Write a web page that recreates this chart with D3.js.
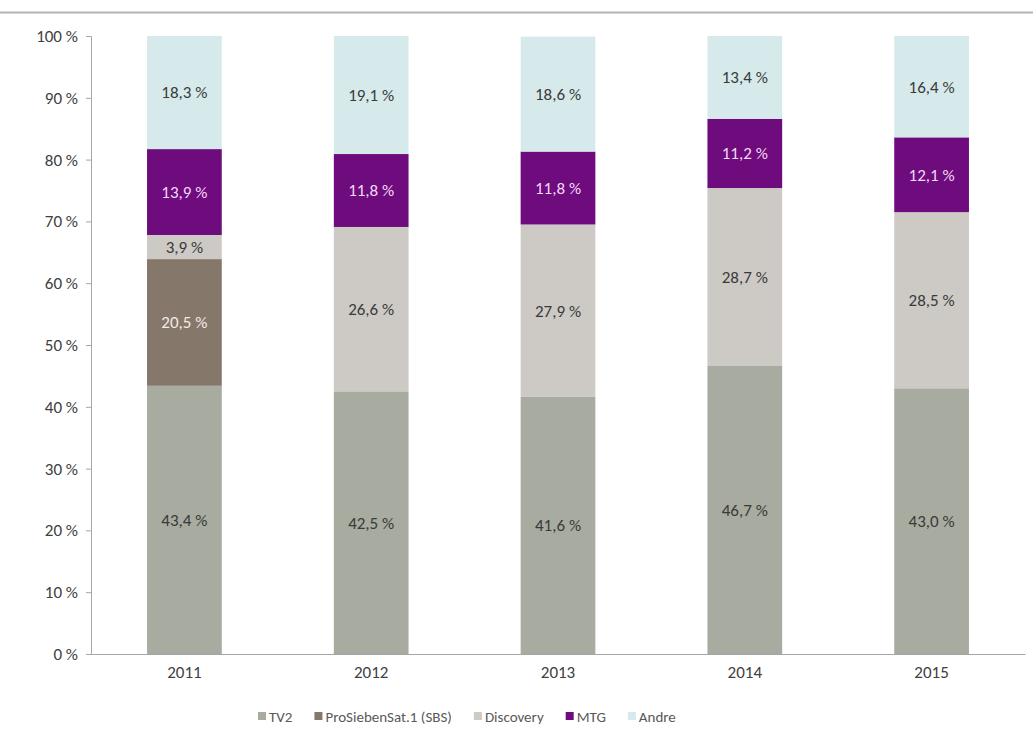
<!DOCTYPE html>
<html>
<head>
<meta charset="utf-8">
<script src="https://cdn.jsdelivr.net/npm/d3@7/dist/d3.min.js"></script>
<style>
  body { margin: 0; background: #fff; }
  text { font-family: Calibri, Carlito, "Liberation Sans", "Open Sans", sans-serif; }
</style>
</head>
<body>
<svg id="chart" width="1033" height="729"></svg>
<script>
// data
var years = ["2011", "2012", "2013", "2014", "2015"];
var seriesNames = ["TV2", "ProSiebenSat.1 (SBS)", "Discovery", "MTG", "Andre"];
var tv2 = [43.4, 42.5, 41.6, 46.7, 43.0];
var sbs = [20.5, 0, 0, 0, 0];
var discovery = [3.9, 26.6, 27.9, 28.7, 28.5];
var mtg = [13.9, 11.8, 11.8, 11.2, 12.1];
var andre = [18.3, 19.1, 18.6, 13.4, 16.4];
var yTicks = [0, 10, 20, 30, 40, 50, 60, 70, 80, 90, 100];

var colors = ["#a8ab9f", "#85776a", "#cdc9c5", "#6e0b7d", "#d6eaeb"];
var labelColors = ["#3a3a3a", "#f2ece6", "#3a3a3a", "#f4d8f6", "#3a3a3a"];

var svg = d3.select("#chart");
var margin = {top: 36, right: 8, bottom: 75, left: 91},
  width = 1033 - margin.left - margin.right,
  height = 729 - margin.top - margin.bottom;

// thin line across the top
svg.append("line")
  .attr("x1", 0).attr("x2", 1033)
  .attr("y1", 12.5).attr("y2", 12.5)
  .attr("stroke", "#b4b4b4").attr("stroke-width", 2);

var g = svg.append("g")
  .attr("transform", "translate(" + margin.left + "," + margin.top + ")");

var x = d3.scaleBand().domain(years).range([0, width]).paddingInner(0.6).paddingOuter(0.3);
var y = d3.scaleLinear().domain([0, 100]).range([height, 0]);

var table = years.map(function(yr, i) {
  return {year: yr, "TV2": tv2[i], "ProSiebenSat.1 (SBS)": sbs[i], "Discovery": discovery[i], "MTG": mtg[i], "Andre": andre[i]};
});
var stacked = d3.stack().keys(seriesNames)(table);

// bars
stacked.forEach(function(layer, k) {
  var lg = g.append("g");
  lg.selectAll("rect")
    .data(layer.filter(function(d) { return d[1] - d[0] > 0; }))
    .enter().append("rect")
    .attr("x", function(d) { return x(d.data.year); })
    .attr("width", x.bandwidth())
    .attr("y", function(d) { return y(d[1]); })
    .attr("height", function(d) { return y(d[0]) - y(d[1]); })
    .attr("fill", colors[k]);

  lg.selectAll("text")
    .data(layer.filter(function(d) { return d[1] - d[0] > 0; }))
    .enter().append("text")
    .attr("x", function(d) { return x(d.data.year) + x.bandwidth() / 2; })
    .attr("y", function(d) { return y((d[0] + d[1]) / 2); })
    .attr("dy", "0.35em")
    .attr("text-anchor", "middle")
    .attr("font-size", 17)
    .attr("fill", labelColors[k])
    .text(function(d) { return (d[1] - d[0]).toFixed(1).replace(".", ",") + " %"; });
});

// y axis
var yAxis = d3.axisLeft(y).tickValues(yTicks).tickSize(5).tickFormat(function(d) { return d + " %"; });
var gy = g.append("g").call(yAxis);
gy.select(".domain").attr("stroke", "#a6a6a6");
gy.selectAll(".tick line").attr("stroke", "#a6a6a6");
gy.selectAll(".tick text").attr("font-size", 17).attr("fill", "#404040").attr("x", -13);

// x axis
var xAxis = d3.axisBottom(x).tickSize(0);
var gx = g.append("g").attr("transform", "translate(0," + height + ")").call(xAxis);
gx.select(".domain").attr("stroke", "#a6a6a6");
gx.selectAll(".tick text").attr("font-size", 17).attr("fill", "#404040").attr("dy", "1.25em");

// legend
var legend = svg.append("g").attr("transform", "translate(0,717)");
var lx = 258;
seriesNames.forEach(function(name, k) {
  var item = legend.append("g").attr("transform", "translate(" + lx + ",0)");
  item.append("rect").attr("x", 0).attr("y", -5).attr("width", 8).attr("height", 8).attr("fill", colors[k]);
  var t = item.append("text").attr("x", 11).attr("y", 0).attr("dy", "0.35em")
    .attr("font-size", 15).attr("fill", "#595959").text(name);
  lx += 11 + t.node().getComputedTextLength() + 22;
});
</script>
</body>
</html>
